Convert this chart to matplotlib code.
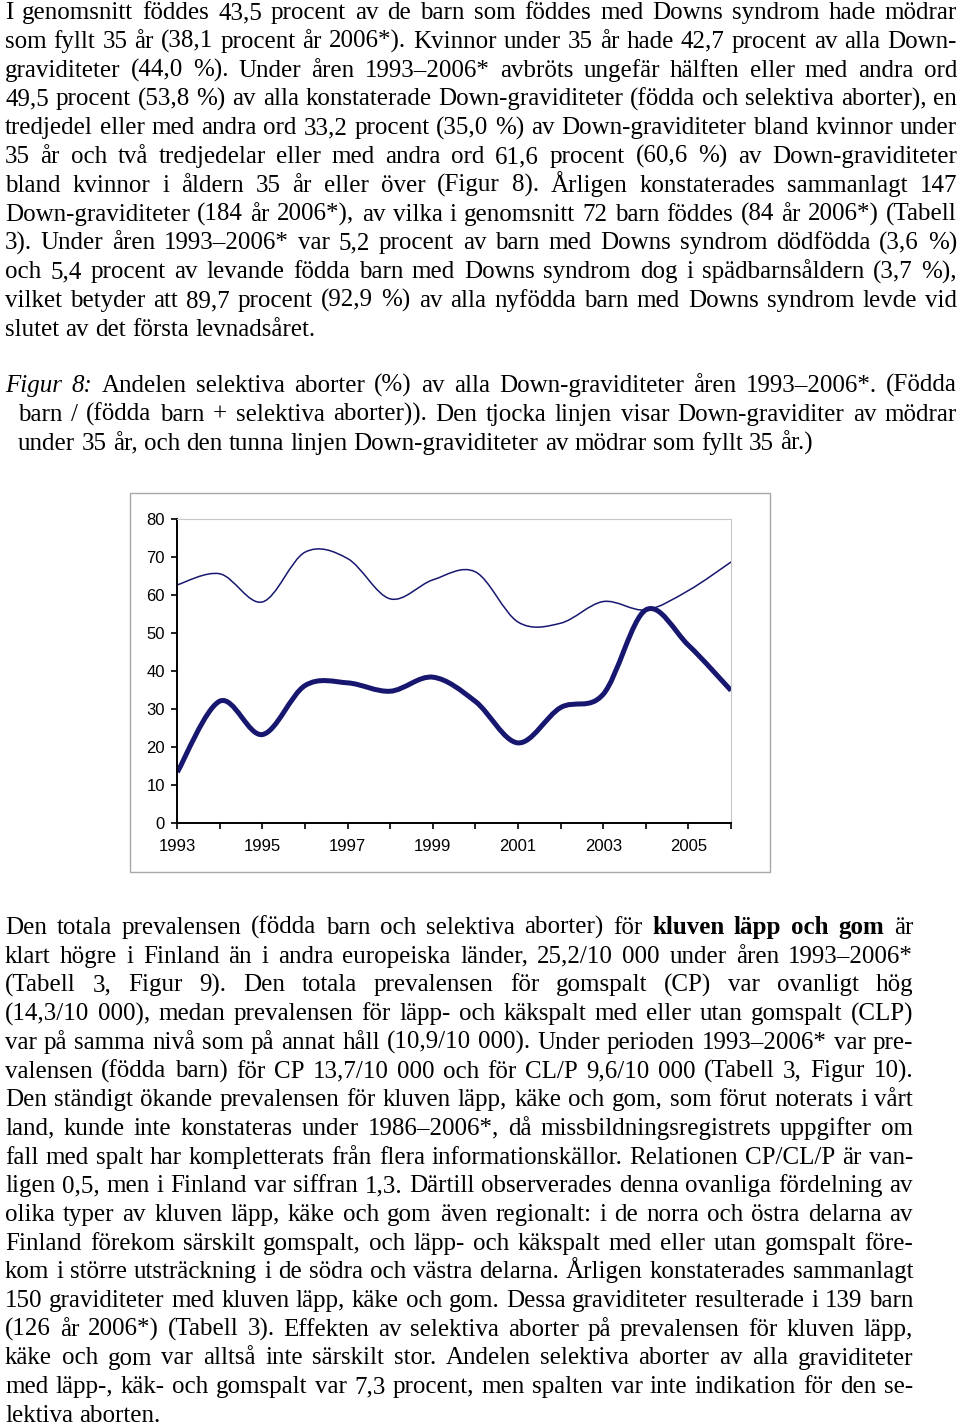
import matplotlib
matplotlib.use('Agg')
import matplotlib.pyplot as plt
from matplotlib.path import Path
from matplotlib.patches import PathPatch, Rectangle

# figure 8 data: share of selective abortions (%) of all Down pregnancies
years = [1993, 1994, 1995, 1996, 1997, 1998, 1999, 2000, 2001, 2002, 2003, 2004, 2005, 2006]
under35 = [13.3, 32.0, 23.2, 36.1, 36.8, 34.6, 38.3, 31.9, 21.0, 30.3, 33.8, 56.0, 46.7, 34.8]
over35 = [62.6, 65.5, 58.1, 71.2, 69.5, 58.9, 63.9, 66.0, 52.8, 52.5, 58.2, 56.0, 61.1, 68.6]
y_ticks = [0, 10, 20, 30, 40, 50, 60, 70, 80]
x_tick_labels = ['1993', '', '1995', '', '1997', '', '1999', '', '2001', '', '2003', '', '2005', '']

# page text, one list entry per printed line ('**' = bold, '_' = italic)
para1 = [
    "I genomsnitt föddes 43,5 procent av de barn som föddes med Downs syndrom hade mödrar",
    "som fyllt 35 år (38,1 procent år 2006*). Kvinnor under 35 år hade 42,7 procent av alla Down-",
    "graviditeter (44,0 %). Under åren 1993–2006* avbröts ungefär hälften eller med andra ord",
    "49,5 procent (53,8 %) av alla konstaterade Down-graviditeter (födda och selektiva aborter), en",
    "tredjedel eller med andra ord 33,2 procent (35,0 %) av Down-graviditeter bland kvinnor under",
    "35 år och två tredjedelar eller med andra ord 61,6 procent (60,6 %) av Down-graviditeter",
    "bland kvinnor i åldern 35 år eller över (Figur 8).  Årligen konstaterades sammanlagt 147",
    "Down-graviditeter (184 år 2006*), av vilka i genomsnitt 72 barn föddes (84 år 2006*) (Tabell",
    "3). Under åren 1993–2006* var 5,2 procent av barn med Downs syndrom dödfödda (3,6 %)",
    "och 5,4 procent av levande födda barn med Downs syndrom dog i spädbarnsåldern (3,7 %),",
    "vilket betyder att 89,7 procent (92,9 %) av alla nyfödda barn med Downs syndrom levde vid",
    "slutet av det första levnadsåret.",
]
caption = [
    "_Figur _8: Andelen selektiva aborter (%) av alla Down-graviditeter åren 1993–2006*. (Födda",
    "barn / (födda barn + selektiva aborter)). Den tjocka linjen visar Down-graviditer av mödrar",
    "under 35 år, och den tunna linjen Down-graviditeter av mödrar som fyllt 35 år.)",
]
para2 = [
    "Den totala prevalensen (födda barn och selektiva aborter) för **kluven **läpp **och **gom är",
    "klart högre i Finland än i andra europeiska länder, 25,2/10 000 under åren 1993–2006*",
    "(Tabell 3, Figur 9). Den totala prevalensen för gomspalt (CP) var ovanligt hög",
    "(14,3/10 000), medan prevalensen för läpp- och käkspalt med eller utan gomspalt (CLP)",
    "var på samma nivå som på annat håll (10,9/10 000). Under perioden 1993–2006* var pre-",
    "valensen (födda barn) för CP 13,7/10 000 och för CL/P 9,6/10 000 (Tabell 3, Figur 10).",
    "Den ständigt ökande prevalensen för kluven läpp, käke och gom, som förut noterats i vårt",
    "land, kunde inte konstateras under 1986–2006*, då missbildningsregistrets uppgifter om",
    "fall med spalt har kompletterats från flera informationskällor. Relationen CP/CL/P är van-",
    "ligen 0,5, men i Finland var siffran 1,3. Därtill observerades denna ovanliga fördelning av",
    "olika typer av kluven läpp, käke och gom även regionalt: i de norra och östra delarna av",
    "Finland förekom särskilt gomspalt, och läpp- och käkspalt med eller utan gomspalt före-",
    "kom i större utsträckning i de södra och västra delarna. Årligen konstaterades sammanlagt",
    "150 graviditeter med kluven läpp, käke och gom. Dessa graviditeter resulterade i 139 barn",
    "(126 år 2006*) (Tabell 3). Effekten av selektiva aborter på prevalensen för kluven läpp,",
    "käke och gom var alltså inte särskilt stor. Andelen selektiva aborter av alla graviditeter",
    "med läpp-, käk- och gomspalt var 7,3 procent, men spalten var inte indikation för den se-",
    "lektiva aborten.",
]

W, H = 960, 1426
fig = plt.figure(figsize=(W / 100, H / 100), dpi=100)
fig.patch.set_facecolor('white')
renderer = fig.canvas.get_renderer()
BODY = 'Liberation Serif'
FS = 18


def fx(x):
    return x / W


def fy(y):
    return 1 - y / H


def parse_word(w):
    if w.startswith('**'):
        return w[2:], 'normal', 'bold'
    if w.startswith('_'):
        return w[1:], 'italic', 'normal'
    return w, 'normal', 'normal'


def put_line(line, x0, x1, y, justify=True):
    words = [parse_word(w) for w in line.split(' ') if w != '']
    objs, widths = [], []
    for txt, style, weight in words:
        t = fig.text(0, 0, txt, fontsize=FS, family=BODY, style=style,
                     fontweight=weight, va='baseline', ha='left', color='black')
        objs.append(t)
        widths.append(t.get_window_extent(renderer).width)
    space = FS * 100 / 72 * 0.25
    if justify and len(objs) > 1:
        space = (x1 - x0 - sum(widths)) / (len(objs) - 1)
    x = x0
    for t, w in zip(objs, widths):
        t.set_position((fx(x), fy(y)))
        x += w + space


for i, line in enumerate(para1):
    put_line(line, 5, 957, 19 + 28.8 * i, justify=i < len(para1) - 1)

put_line(caption[0], 5, 957, 392)
put_line(caption[1], 18, 957, 421)
put_line(caption[2], 18, 957, 450, justify=False)

for i, line in enumerate(para2):
    put_line(line, 5, 913, 934 + 28.7 * i, justify=i < len(para2) - 1)

# outer chart frame
fig.patches.append(Rectangle((fx(130), fy(872)), (770 - 130) / W, (872 - 493) / H,
                             transform=fig.transFigure, fill=False,
                             edgecolor='#a8a8a8', linewidth=1.0))

ax = fig.add_axes([fx(177.3), fy(822.7), (731 - 177.3) / W, (822.7 - 518.7) / H])
ax.set_xlim(years[0], years[-1])
ax.set_ylim(0, 80)
ax.set_facecolor('white')


def smooth_path(xs, ys):
    # excel style smoothed line: bezier through each point
    n = len(xs)
    verts = [(xs[0], ys[0])]
    codes = [Path.MOVETO]
    for i in range(n - 1):
        i0 = max(i - 1, 0)
        i2 = min(i + 2, n - 1)
        c1 = (xs[i] + (xs[i + 1] - xs[i0]) / 6, ys[i] + (ys[i + 1] - ys[i0]) / 6)
        c2 = (xs[i + 1] - (xs[i2] - xs[i]) / 6, ys[i + 1] - (ys[i2] - ys[i]) / 6)
        verts += [c1, c2, (xs[i + 1], ys[i + 1])]
        codes += [Path.CURVE4] * 3
    return Path(verts, codes)


navy = '#171770'
ax.add_patch(PathPatch(smooth_path(years, over35), fill=False, edgecolor=navy,
                       linewidth=1.1, capstyle='round', joinstyle='round'))
ax.add_patch(PathPatch(smooth_path(years, under35), fill=False, edgecolor=navy,
                       linewidth=3.6, capstyle='butt', joinstyle='round'))

ax.set_yticks(y_ticks)
ax.set_xticks(years)
ax.set_xticklabels(x_tick_labels)
for s in ['left', 'bottom']:
    ax.spines[s].set_color('black')
    ax.spines[s].set_linewidth(1.4)
for s in ['top', 'right']:
    ax.spines[s].set_color('#c8c8c8')
    ax.spines[s].set_linewidth(0.8)
ax.tick_params(axis='both', direction='out', length=4, width=1.2, colors='black',
               labelsize=12)
ax.tick_params(axis='y', pad=5)
ax.tick_params(axis='x', pad=8)
for lab in ax.get_xticklabels() + ax.get_yticklabels():
    lab.set_family('Liberation Sans')

fig.savefig('out.png', dpi=100)
